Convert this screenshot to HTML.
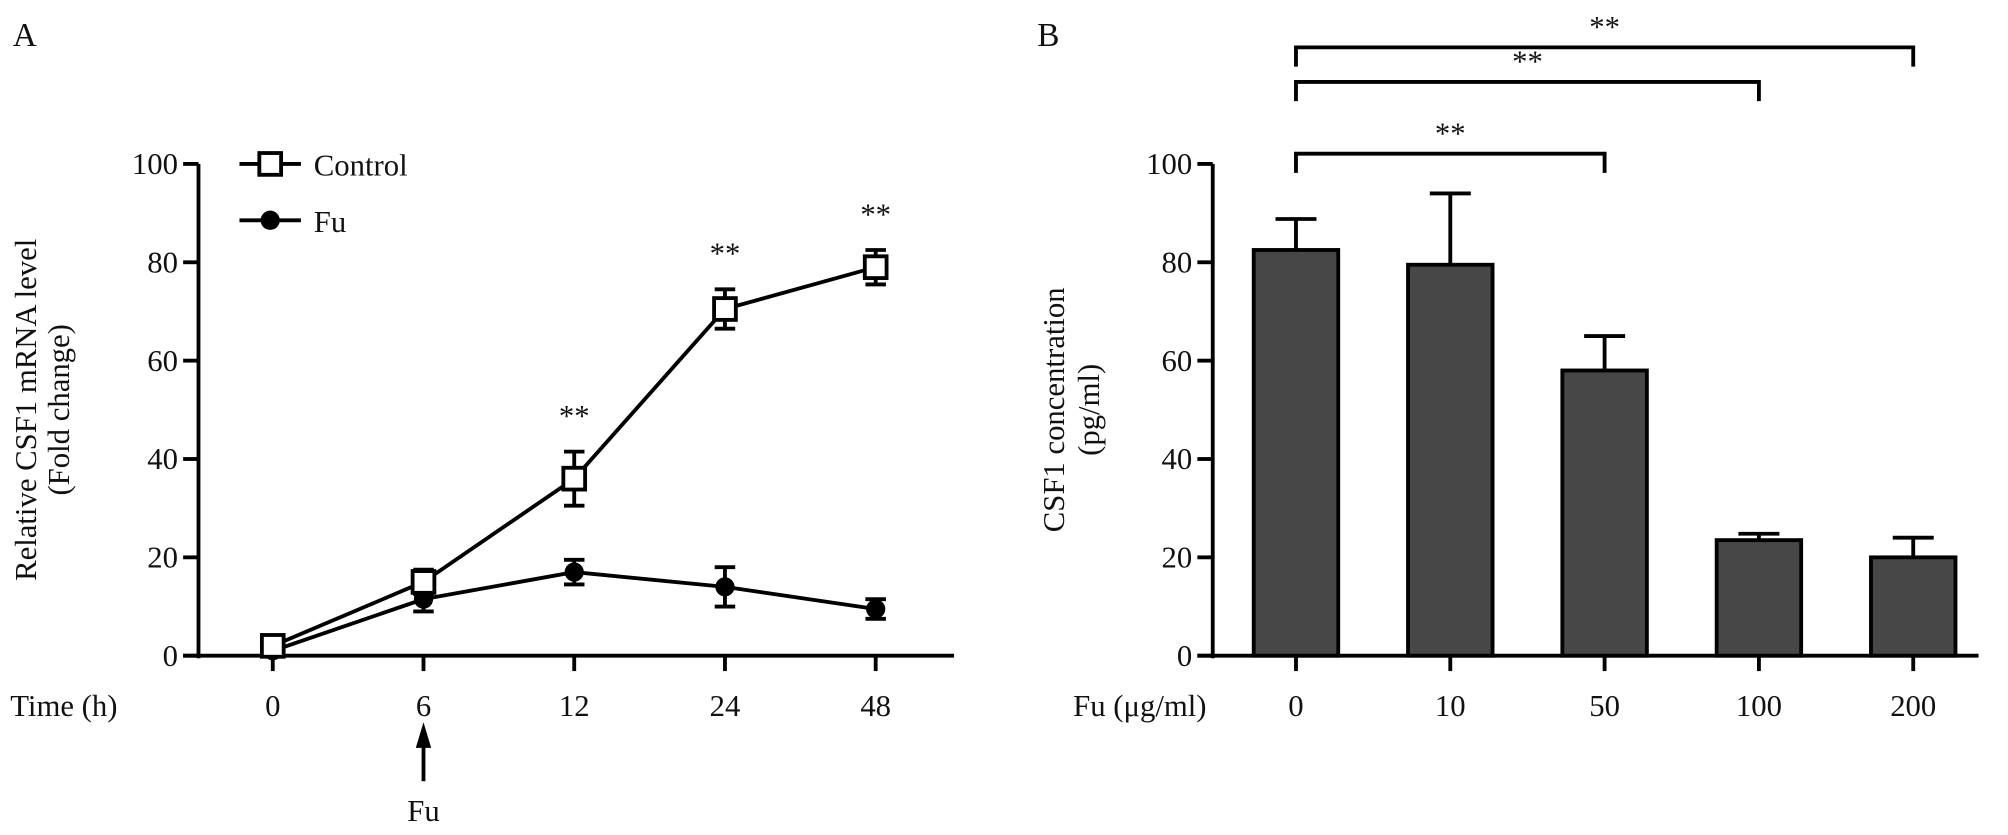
<!DOCTYPE html>
<html><head><meta charset="utf-8"><style>
html,body{margin:0;padding:0;background:#fff;}
svg{display:block;}
text{font-family:"Liberation Serif",serif;fill:#111;}
</style></head><body>
<svg id="fig" width="2008" height="835" viewBox="0 0 1568 652" preserveAspectRatio="none">
<g id="pa"></g>
<g id="pb"></g>
</svg>
<script>
// Panel A data
const timeLabels = ["0","6","12","24","48"];
const controlMean = [2, 15, 36, 70.5, 79];
const controlErr = [1, 2.5, 5.5, 4, 3.5];
const fuMean = [1, 11.5, 17, 14, 9.5];
const fuErr = [0.5, 2.5, 2.5, 4, 2];
const sigA = [false, false, true, true, true];
const yTicks = [0, 20, 40, 60, 80, 100];
// Panel B data
const doseLabels = ["0","10","50","100","200"];
const concMean = [82.5, 79.5, 58, 23.5, 20];
const concErr = [6.3, 14.5, 7, 1.3, 4];
const brackets = [[0,2,"**"],[0,3,"**"],[0,4,"**"]];

const NS = "http://www.w3.org/2000/svg";
function mk(parent, tag, attrs, txt){
  const e = document.createElementNS(NS, tag);
  for (const k in attrs) e.setAttribute(k, attrs[k]);
  if (txt !== undefined) e.textContent = txt;
  parent.appendChild(e);
  return e;
}
const pa = document.getElementById('pa');
const pb = document.getElementById('pb');
const Y0 = 512, Y100 = 128;
function yS(v){ return Y0 - (v/100)*(Y0-Y100); }
const FS = 24;

// ===== Panel A =====
const xA = i => 213 + i*117.7;
let t = mk(pa,'text',{x:10,y:36,'font-size':26},'A');


let ax = mk(pa,'path',{d:`M155 ${Y100} V${Y0+2} M143 ${Y0} H745`,stroke:'#000','stroke-width':3,fill:'none'});


yTicks.forEach(v=>{
  const tk = mk(pa,'line',{x1:143,x2:155,y1:yS(v),y2:yS(v),stroke:'#000','stroke-width':3});
  
  
  const tl = mk(pa,'text',{x:139,y:yS(v)+8,'font-size':FS,'text-anchor':'end'},String(v));
  
  
});
timeLabels.forEach((l,i)=>{
  const tk = mk(pa,'line',{x1:xA(i),x2:xA(i),y1:Y0,y2:Y0+12,stroke:'#000','stroke-width':3});
  
  
  const tl = mk(pa,'text',{x:xA(i),y:559,'font-size':FS,'text-anchor':'middle'},l);
  
  
});
t = mk(pa,'text',{x:8,y:559,'font-size':FS},'Time (h)');


t = mk(pa,'text',{'font-size':FS,'text-anchor':'middle',transform:'translate(28,320) rotate(-90)'},'Relative CSF1 mRNA level');


t = mk(pa,'text',{'font-size':FS,'text-anchor':'middle',transform:'translate(54,320) rotate(-90)'},'(Fold change)');


// arrow
const ar = mk(pa,'path',{d:`M${xA(1)} 610 V580`,stroke:'#000','stroke-width':3});


const ah = mk(pa,'polygon',{points:`${xA(1)-6},584 ${xA(1)+6},584 ${xA(1)},564`,fill:'#000'});


t = mk(pa,'text',{x:xA(1),y:641,'font-size':FS,'text-anchor':'middle'},'Fu');


function series(mean, err, name, square){
  const g = mk(pa,'g',{});
  
  
  const ln = mk(g,'polyline',{points:mean.map((v,i)=>xA(i)+','+yS(v)).join(' '),fill:'none',stroke:'#000','stroke-width':3});
  
  
  mean.forEach((v,i)=>{
    const x = xA(i), hi = yS(v+err[i]), lo = yS(v-err[i]);
    const eb = mk(g,'path',{d:`M${x} ${hi} V${lo} M${x-8} ${hi} H${x+8} M${x-8} ${lo} H${x+8}`,stroke:'#000','stroke-width':3,fill:'none'});
    
    
    let m;
    if (square) m = mk(g,'rect',{x:x-8.5,y:yS(v)-8.5,width:17,height:17,fill:'#fff',stroke:'#000','stroke-width':3});
    else m = mk(g,'circle',{cx:x,cy:yS(v),r:7.5,fill:'#000'});
    
    
  });
}
series(fuMean, fuErr, 'fu', false);
series(controlMean, controlErr, 'control', true);
sigA.forEach((s,i)=>{
  if(!s) return;
  const st = mk(pa,'text',{x:xA(i),y:yS(controlMean[i]+controlErr[i])-20,'font-size':FS,'text-anchor':'middle'},'**');
  
  
});
// legend
let lg = mk(pa,'g',{});


mk(lg,'line',{x1:187,x2:235,y1:128,y2:128,stroke:'#000','stroke-width':3});
mk(lg,'rect',{x:202.5,y:119.5,width:17,height:17,fill:'#fff',stroke:'#000','stroke-width':3});
mk(lg,'text',{x:245,y:137,'font-size':FS},'Control');
lg = mk(pa,'g',{});


mk(lg,'line',{x1:187,x2:235,y1:172,y2:172,stroke:'#000','stroke-width':3});
mk(lg,'circle',{cx:211,cy:172,r:7.5,fill:'#000'});
mk(lg,'text',{x:245,y:181,'font-size':FS},'Fu');

// ===== Panel B =====
const xB = i => 1012 + i*120.5;
t = mk(pb,'text',{x:810,y:36,'font-size':26},'B');


ax = mk(pb,'path',{d:`M947 ${Y100} V${Y0+2} M935 ${Y0} H1545`,stroke:'#000','stroke-width':3,fill:'none'});


yTicks.forEach(v=>{
  const tk = mk(pb,'line',{x1:935,x2:947,y1:yS(v),y2:yS(v),stroke:'#000','stroke-width':3});
  
  
  const tl = mk(pb,'text',{x:931,y:yS(v)+8,'font-size':FS,'text-anchor':'end'},String(v));
  
  
});
concMean.forEach((v,i)=>{
  const x = xB(i), top = yS(v), et = yS(v+concErr[i]);
  const eb = mk(pb,'path',{d:`M${x} ${top} V${et} M${x-16} ${et} H${x+16}`,stroke:'#000','stroke-width':3,fill:'none'});
  
  
  const b = mk(pb,'rect',{x:x-33,y:top,width:66,height:Y0-top,fill:'#474747',stroke:'#000','stroke-width':3});
  
  
  const tk = mk(pb,'line',{x1:x,x2:x,y1:Y0,y2:Y0+12,stroke:'#000','stroke-width':3});
  
  
  const tl = mk(pb,'text',{x:x,y:559,'font-size':FS,'text-anchor':'middle'},doseLabels[i]);
  
  
});
t = mk(pb,'text',{x:838,y:559,'font-size':FS},'Fu (μg/ml)');


t = mk(pb,'text',{'font-size':FS,'text-anchor':'middle',transform:'translate(831,320) rotate(-90)'},'CSF1 concentration');


t = mk(pb,'text',{'font-size':FS,'text-anchor':'middle',transform:'translate(858,320) rotate(-90)'},'(pg/ml)');


const bY = [120, 64, 37];
brackets.forEach((br,k)=>{
  const y = bY[k], x1 = xB(br[0]), x2 = xB(br[1]);
  const p = mk(pb,'path',{d:`M${x1} ${y+15} V${y} H${x2} V${y+15}`,stroke:'#000','stroke-width':3,fill:'none'});
  
  
  const st = mk(pb,'text',{x:(x1+x2)/2,y:y-8,'font-size':FS,'text-anchor':'middle'},br[2]);
  
  
});
</script>
</body></html>
